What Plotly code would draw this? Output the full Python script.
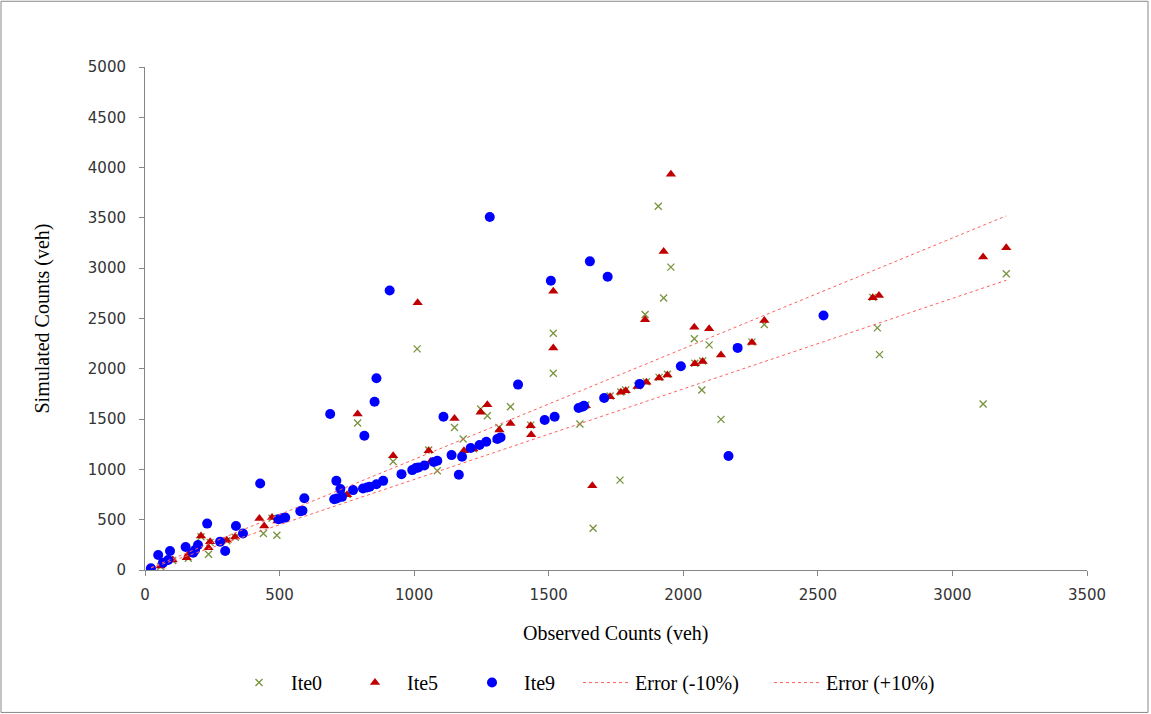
import plotly.graph_objects as go

# Ite0 – observed vs simulated counts (veh)
ite0_obs = [58, 103, 161, 208, 236, 242, 304, 335, 440, 472, 490, 751, 790, 922, 1011,
            1054, 1086, 1150, 1182, 1220, 1247, 1272, 1309, 1315, 1358, 1433, 1517, 1517,
            1616, 1638, 1665, 1728, 1765, 1768, 1786, 1830, 1858, 1863, 1907, 1910, 1927,
            1941, 1954, 2041, 2043, 2069, 2072, 2096, 2140, 2255, 2301, 2704, 2721, 2729,
            3114, 3200]
ite0_sim = [35, 95, 117, 330, 156, 275, 290, 325, 362, 515, 345, 750, 1461, 1079, 2198,
            1192, 986, 1417, 1302, 1205, 1600, 1534, 1300, 1417, 1623, 1440, 2354, 1955,
            1451, 1640, 415, 1730, 893, 1770, 1790, 1830, 2540, 1870, 3616, 1915, 2703,
            1945, 3011, 2298, 2055, 1790, 2078, 2238, 1497, 2265, 2440, 2710, 2407, 2141,
            1650, 2945]

# Ite5
ite5_obs = [58, 103, 155, 161, 208, 236, 242, 304, 335, 425, 443, 472, 492, 751, 790,
            922, 1013, 1054, 1061, 1150, 1185, 1220, 1247, 1272, 1309, 1317, 1358, 1433,
            1435, 1517, 1517, 1638, 1662, 1728, 1768, 1786, 1830, 1858, 1863, 1910, 1927,
            1941, 1954, 2041, 2043, 2072, 2096, 2140, 2255, 2301, 2704, 2727, 3114, 3200]
ite5_sim = [40, 100, 123, 156, 339, 222, 282, 296, 329, 511, 438, 521, 488, 747, 1551,
            1135, 2656, 1185, 1079, 1507, 1185, 1202, 1567, 1643, 1295, 1391, 1457, 1434,
            1345, 2772, 2208, 1633, 837, 1723, 1766, 1783, 1823, 2487, 1866, 1909, 3167,
            1939, 3934, 2413, 2049, 2072, 2397, 2138, 2261, 2480, 2706, 2729, 3111, 3204]

# Ite9
ite9_obs = [22, 49, 67, 86, 93, 151, 179, 186, 197, 231, 279, 298, 338, 364, 428, 496,
            509, 521, 577, 585, 592, 688, 703, 711, 713, 726, 732, 773, 810, 815, 825, 835,
            853, 860, 860, 885, 909, 953, 993, 1006, 1016, 1038, 1073, 1086, 1109, 1139,
            1166, 1178, 1210, 1243, 1268, 1281, 1309, 1321, 1386, 1485, 1508, 1522, 1611,
            1625, 1631, 1653, 1706, 1719, 1838, 1991, 2168, 2202, 2521]
ite9_sim = [17, 149, 73, 100, 189, 229, 172, 199, 249, 461, 282, 189, 438, 362, 860, 505,
            515, 521, 585, 590, 714, 1551, 704, 886, 710, 804, 727, 794, 810, 1335, 820, 827,
            1673, 853, 1906, 886, 2779, 953, 993, 1013, 1019, 1039, 1073, 1086, 1524, 1142,
            946, 1125, 1212, 1242, 1275, 3509, 1302, 1318, 1843, 1491, 2875, 1524, 1610,
            1624, 1633, 3068, 1710, 2915, 1850, 2025, 1133, 2208, 2530]

# +/-10% error band over the observed range
all_obs = ite0_obs + ite5_obs + ite9_obs
band_x = [min(all_obs), max(all_obs)]
err_lo = [0.9 * v for v in band_x]
err_hi = [1.1 * v for v in band_x]

SERIF = "Liberation Serif, Times New Roman, serif"
SANS = "DejaVu Sans, Verdana, sans-serif"

fig = go.Figure()
fig.add_trace(go.Scatter(
    x=ite0_obs, y=ite0_sim, mode="markers", name="Ite0", legend="legend",
    marker=dict(symbol="x-thin", size=7, color="#77933C",
                line=dict(color="#77933C", width=1.3)),
))
fig.add_trace(go.Scatter(
    x=ite5_obs, y=ite5_sim, mode="markers", name="Ite5", legend="legend2",
    marker=dict(symbol="triangle-up", size=9, color="#C00000", line=dict(width=0)),
))
fig.add_trace(go.Scatter(
    x=ite9_obs, y=ite9_sim, mode="markers", name="Ite9", legend="legend3",
    marker=dict(symbol="circle", size=10, color="#0000FF", line=dict(width=0)),
))
fig.add_trace(go.Scatter(
    x=band_x, y=err_lo, mode="lines", name="Error (-10%)", legend="legend4",
    line=dict(color="#FF6060", width=1, dash="dot"),
))
fig.add_trace(go.Scatter(
    x=band_x, y=err_hi, mode="lines", name="Error (+10%)", legend="legend5",
    line=dict(color="#FF6060", width=1, dash="dot"),
))

L, R, T, B = 145, 64, 67, 142
W, H = 1151, 714
pw, ph = W - L - R, H - T - B

def px_x(p):
    return (p - L) / pw

def px_y(p):
    return (H - B - p) / ph

axis_common = dict(
    showgrid=False, zeroline=False, showline=True, linecolor="#868686", linewidth=1,
    ticks="outside", ticklen=5, tickcolor="#868686", tickwidth=1,
    tickfont=dict(family=SANS, size=15, color="#333333"), dtick=500,
)

def legend_at(px_left, symbol_width):
    return dict(
        orientation="h", x=px_x(px_left), y=px_y(685), xanchor="left", yanchor="middle",
        font=dict(family=SERIF, size=20, color="#000000"),
        bgcolor="rgba(0,0,0,0)", itemwidth=symbol_width,
    )

fig.update_layout(
    width=W, height=H,
    margin=dict(l=L, r=R, t=T, b=B),
    paper_bgcolor="white", plot_bgcolor="white",
    xaxis=dict(range=[0, 3500], tick0=0, ticklabelstandoff=6, **axis_common),
    yaxis=dict(range=[0, 5000], tick0=0, ticklabelstandoff=10, **axis_common),
    showlegend=True,
    legend=legend_at(227, 54),
    legend2=legend_at(343, 54),
    legend3=legend_at(460, 54),
    legend4=legend_at(578, 47),
    legend5=legend_at(769, 47),
    annotations=[
        dict(text="Observed Counts (veh)", x=0.5, y=px_y(636), xref="paper", yref="paper",
             xanchor="center", yanchor="middle", showarrow=False,
             font=dict(family=SERIF, size=20, color="#000000")),
        dict(text="Simulated Counts (veh)", x=px_x(42), y=0.5, xref="paper", yref="paper",
             xanchor="center", yanchor="middle", showarrow=False, textangle=-90,
             font=dict(family=SERIF, size=20, color="#000000")),
    ],
    shapes=[
        dict(type="rect", xref="paper", yref="paper",
             x0=px_x(1), x1=px_x(1148), y0=px_y(715), y1=px_y(1),
             line=dict(color="#888888", width=1), fillcolor="rgba(0,0,0,0)"),
    ],
)

fig.write_html("out.html")
